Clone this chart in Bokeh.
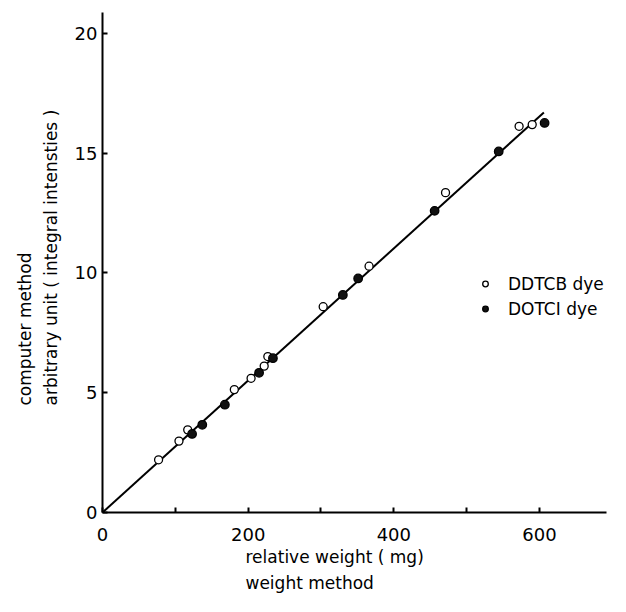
from bokeh.plotting import figure
from bokeh.models import Range1d, FixedTicker, Legend, LegendItem, Title
from bokeh.embed import file_html
from bokeh.resources import INLINE

# ---- data ----
ddtcb_x = [77, 105, 117, 181, 204, 222, 227, 303, 366, 471, 572, 590]
ddtcb_y = [2.2, 2.98, 3.45, 5.13, 5.6, 6.11, 6.51, 8.59, 10.28, 13.35, 16.12, 16.19]
dotci_x = [123, 137, 168, 215, 234, 330, 351, 456, 544, 607]
dotci_y = [3.28, 3.66, 4.5, 5.83, 6.44, 9.08, 9.77, 12.59, 15.07, 16.26]
fit_x = [0, 606]
fit_y = [0, 16.7]
x_ticks = [0, 100, 200, 300, 400, 500, 600]
x_tick_labels = {0: "0", 100: "", 200: "200", 300: "", 400: "400", 500: "", 600: "600"}
y_ticks = [0, 5, 10, 15, 20]
series_names = ["DDTCB dye", "DOTCI dye"]
x_title = "relative weight  ( mg)\nweight method"
y_title = "computer  method\narbitrary  unit ( integral  intensties )"

FONT = "DejaVu Sans"

p = figure(width=610, height=596, output_backend="svg", toolbar_location=None,
           x_range=Range1d(0, 692), y_range=Range1d(0, 20.87),
           min_border_left=102, min_border_right=4, min_border_top=12, min_border_bottom=84)
p.outline_line_color = None
p.xgrid.visible = False
p.ygrid.visible = False
p.background_fill_color = "white"
p.border_fill_color = "white"

for ax in (p.xaxis[0], p.yaxis[0]):
    ax.axis_line_width = 2
    ax.axis_line_color = "black"
    ax.major_tick_in = 5
    ax.major_tick_out = 0
    ax.major_tick_line_width = 2
    ax.minor_tick_line_color = None
    ax.major_label_text_font = FONT
    ax.major_label_text_font_size = "18px"
    ax.major_label_text_color = "black"

p.xaxis[0].ticker = FixedTicker(ticks=x_ticks)
p.xaxis[0].major_label_overrides = x_tick_labels
p.xaxis[0].major_label_standoff = 15
p.yaxis[0].ticker = FixedTicker(ticks=y_ticks)
p.yaxis[0].major_label_standoff = 5

# fitted line
p.line(fit_x, fit_y, line_color="black", line_width=2)

r_open = p.scatter(ddtcb_x, ddtcb_y, marker="circle", size=8, fill_color="white",
                   line_color="black", line_width=1.3)
r_fill = p.scatter(dotci_x, dotci_y, marker="circle", size=8.5, fill_color="#111111",
                   line_color="black", line_width=1.3)

legend = Legend(items=[LegendItem(label=series_names[0], renderers=[r_open]),
                       LegendItem(label=series_names[1], renderers=[r_fill])],
                location=(376, 191), orientation="vertical",
                padding=0, margin=0, spacing=0,
                glyph_width=14, glyph_height=25, label_height=25,
                label_standoff=16,
                label_text_font=FONT, label_text_font_size="17px",
                label_text_color="black",
                border_line_color=None, background_fill_alpha=0)
p.add_layout(legend, "center")


def axis_title(text, offset, standoff):
    return Title(text=text, align="left", offset=offset, standoff=standoff,
                 text_font=FONT, text_font_size="17px", text_font_style="normal",
                 text_color="black", text_line_height=1.3)


p.add_layout(axis_title(x_title, 143, 2), "below")
p.add_layout(axis_title(y_title, 107, 22), "left")

open("out.html", "w").write(file_html(p, INLINE))
